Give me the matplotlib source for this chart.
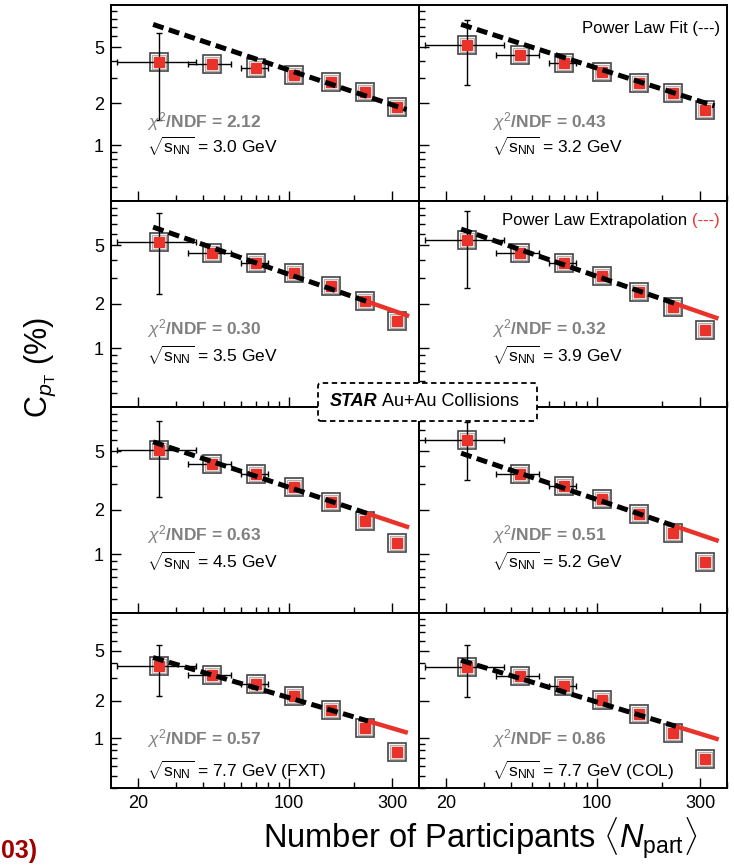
import numpy as np
import matplotlib.pyplot as plt
from matplotlib.ticker import FixedLocator, FuncFormatter, NullFormatter
from matplotlib.patches import FancyBboxPatch
from matplotlib.text import Annotation

plt.rcParams['font.family'] = ['Liberation Sans', 'DejaVu Sans']
plt.rcParams['mathtext.fontset'] = 'custom'
plt.rcParams['mathtext.rm'] = 'Liberation Sans'
plt.rcParams['mathtext.it'] = 'Liberation Sans:italic'
plt.rcParams['mathtext.bf'] = 'Liberation Sans:bold'

# centrality bins (Npart) and their horizontal extent
npart = [25, 44, 70, 105, 156, 225, 316]
npart_lo = [16, 34, 60, 100, 150, 218, 308]
npart_hi = [37, 54, 80, 111, 162, 232, 324]

energies = ['3.0 GeV', '3.2 GeV', '3.5 GeV', '3.9 GeV',
            '4.5 GeV', '5.2 GeV', '7.7 GeV (FXT)', '7.7 GeV (COL)']
chi2 = ['2.12', '0.43', '0.30', '0.32', '0.63', '0.51', '0.57', '0.86']

# C_pT (%) per energy
cpt = [
    [3.90, 3.77, 3.53, 3.16, 2.83, 2.40, 1.88],
    [5.18, 4.39, 3.83, 3.34, 2.80, 2.34, 1.78],
    [5.30, 4.47, 3.81, 3.25, 2.64, 2.10, 1.54],
    [5.40, 4.45, 3.80, 3.09, 2.42, 1.92, 1.34],
    [5.10, 4.13, 3.53, 2.86, 2.25, 1.69, 1.19],
    [5.97, 3.53, 2.89, 2.38, 1.88, 1.40, 0.886],
    [3.80, 3.19, 2.71, 2.17, 1.67, 1.21, 0.77],
    [3.70, 3.13, 2.63, 2.03, 1.57, 1.11, 0.68],
]
# error bar ends of the most peripheral point
first_hi = [6.28, 7.8, 8.3, 8.5, 8.06, 7.86, 5.52, 5.52]
first_lo = [1.51, 2.68, 2.33, 2.55, 2.45, 3.21, 2.17, 2.13]
# relative stat errors of the other points
stat_rel = [0.05, 0.05, 0.04, 0.04, 0.05, 0.06]

# power law fits: value at Npart = 24 and exponent
fit_amp = [7.19, 7.20, 6.58, 6.38, 5.74, 4.81, 4.36, 4.14]
fit_pow = [-0.518, -0.496, -0.51, -0.51, -0.49, -0.50, -0.51, -0.53]
fit_start = 23.5
fit_end = [350, 350, 232, 232, 232, 232, 232, 232]
extrap = [None, None, (222, 360), (222, 365), (222, 360), (222, 366), (222, 355), (222, 366)]

red = '#e8322a'

fig = plt.figure(figsize=(7.34, 8.66), dpi=100)

W, H = 734.0, 866.0
cols = [111, 419]
col_w = 308
rows = [(5, 201), (201, 407), (407, 613), (613, 788)]

axes = []
for r, (top, bot) in enumerate(rows):
    for c, x0 in enumerate(cols):
        ax = fig.add_axes([x0 / W, 1 - bot / H, col_w / W, (bot - top) / H])
        axes.append(ax)

for i, ax in enumerate(axes):
    r, c = divmod(i, 2)
    x = np.array(npart, dtype=float)
    y = np.array(cpt[i])

    yerr_lo = np.concatenate([[y[0] - first_lo[i]], y[1:] * np.array(stat_rel)])
    yerr_hi = np.concatenate([[first_hi[i] - y[0]], y[1:] * np.array(stat_rel)])
    xerr = [x - np.array(npart_lo), np.array(npart_hi) - x]

    # systematic boxes
    ax.plot(x, y, 's', ms=12.5, mfc='white', mec='#444444', mew=1.2, zorder=2)
    ax.plot(x, y, 's', ms=10.5, mfc='none', mec='#b0b0b0', mew=0.9, zorder=2)
    ax.errorbar(x, y, yerr=[yerr_lo, yerr_hi], xerr=xerr, fmt='none',
                ecolor='black', elinewidth=1.0, capsize=2, capthick=1.0, zorder=3)
    ax.plot(x, y, 's', ms=7.5, color=red, mec=red, zorder=4)

    nf = np.geomspace(fit_start, fit_end[i], 60)
    ax.plot(nf, fit_amp[i] * (nf / 24.0) ** fit_pow[i], color='black', lw=3.6,
            ls=(0, (2.2, 1.1)), zorder=6)
    if extrap[i] is not None:
        ne = np.geomspace(extrap[i][0], extrap[i][1], 30)
        ax.plot(ne, fit_amp[i] * (ne / 24.0) ** fit_pow[i], color=red, lw=3.2,
                zorder=5, solid_capstyle='butt')

    ax.set_xscale('log')
    ax.set_yscale('log')
    ax.set_xlim(15, 400)
    ax.set_ylim(0.4, 10)

    ax.xaxis.set_major_locator(FixedLocator([20, 100, 300]))
    ax.xaxis.set_minor_locator(FixedLocator([30, 40, 50, 60, 70, 80, 90, 200, 400]))
    ax.yaxis.set_major_locator(FixedLocator([1, 2, 5]))
    ax.yaxis.set_minor_locator(FixedLocator([0.4, 0.5, 0.6, 0.7, 0.8, 0.9, 3, 4, 6, 7, 8, 9]))
    fmt = FuncFormatter(lambda v, p: f'{v:g}')
    ax.xaxis.set_major_formatter(fmt)
    ax.yaxis.set_major_formatter(fmt)
    ax.xaxis.set_minor_formatter(NullFormatter())
    ax.yaxis.set_minor_formatter(NullFormatter())

    ax.tick_params(axis='both', which='both', direction='in', top=False, right=False,
                   labelsize=13)
    ax.tick_params(axis='both', which='major', length=7, width=1.0)
    ax.tick_params(axis='both', which='minor', length=4, width=1.0)
    ax.tick_params(axis='x', pad=5)
    ax.tick_params(axis='y', pad=5)
    if c == 1:
        ax.tick_params(labelleft=False)
    if r < 3:
        ax.tick_params(labelbottom=False)
    for s in ax.spines.values():
        s.set_linewidth(1.4)

    tx = 0.116 if c == 0 else 0.236
    if r == 0:
        yc, ys = 0.405, 0.277
    elif r == 3:
        yc, ys = 0.284, 0.103
    else:
        yc, ys = 0.38, 0.25
    ax.text(tx, yc, r'$\chi^{2}$/NDF = ' + chi2[i], transform=ax.transAxes,
            fontsize=12.5, fontweight='bold', color='#808080', va='center', ha='left')
    ax.text(tx, ys, r'$\sqrt{\mathrm{s}_{\mathrm{NN}}}$ = ' + energies[i],
            transform=ax.transAxes, fontsize=12.5, color='black', va='center', ha='left')

# legend-like labels
axes[1].text(0.977, 0.88, 'Power Law Fit (---)', transform=axes[1].transAxes,
             fontsize=12, ha='right', va='center')
t_red = axes[3].text(0.977, 0.904, '(---)', transform=axes[3].transAxes,
                     fontsize=12, ha='right', va='center', color=red)
axes[3].annotate('Power Law Extrapolation ', xy=(0, 0.5), xycoords=t_red,
                 fontsize=12, ha='right', va='center')

# STAR label box
box = FancyBboxPatch((318 / W, 1 - 421 / H), 219 / W, 38 / H,
                     boxstyle='round,pad=0,rounding_size=0.004',
                     transform=fig.transFigure, facecolor='white', edgecolor='black',
                     linestyle=(0, (3, 2)), linewidth=1.3, zorder=10)
fig.add_artist(box)
t_star = fig.text(330 / W, 1 - 402 / H, 'STAR', fontsize=13, fontweight='bold',
                  fontstyle='italic', ha='left', va='center', zorder=11)
fig.add_artist(Annotation(' Au+Au Collisions', xy=(1, 0.5), xycoords=t_star,
                          fontsize=13, ha='left', va='center', zorder=11))

# axis titles
fig.text(40 / W, 1 - 368 / H, r'C$_{p_{\mathrm{T}}}$ (%)', rotation=90, fontsize=22,
         ha='center', va='center')
fig.text(480 / W, 1 - 849 / H, r'Number of Participants $\langle N_{\mathrm{part}}\rangle$',
         fontsize=23.5, ha='center', va='baseline')
fig.text(1 / W, 1 - 858 / H, '03)', fontsize=18, fontweight='bold', color='#a00000',
         ha='left', va='baseline')

fig.savefig('out.png', dpi=100)
